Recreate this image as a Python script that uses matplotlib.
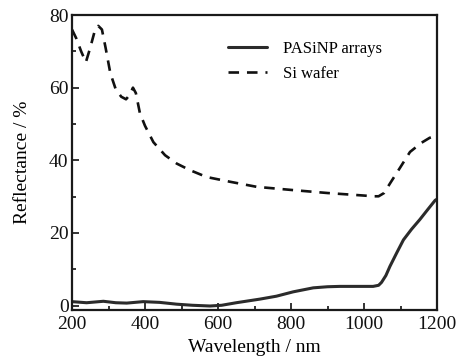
import matplotlib
matplotlib.use("Agg")
import matplotlib.pyplot as plt
from matplotlib.ticker import MultipleLocator

plt.rcParams['font.family'] = ['Liberation Serif', 'DejaVu Serif']

# Si wafer (dashed)
si_wl = [200, 212, 225, 238, 250, 262, 272, 282, 292, 305, 320, 335, 348, 358, 367, 375, 386, 400, 423, 455, 487, 523, 569, 633, 706, 806, 900, 1000, 1025, 1040, 1055, 1071, 1099, 1126, 1157, 1180, 1194, 1200]
si_val = [76, 73.5, 70, 67, 71, 75.5, 77, 76, 71, 64, 59.5, 57.5, 56.8, 58, 60, 58.5, 53, 49.5, 45, 41.4, 39.1, 37.3, 35.4, 34.1, 32.7, 31.8, 31, 30.3, 30.1, 30.1, 31, 33.6, 38, 42.3, 44.8, 46.2, 46.6, 46.7]

# PASiNP arrays (solid)
pa_wl = [200, 240, 286, 320, 350, 395, 440, 487, 530, 578, 610, 650, 715, 760, 806, 861, 900, 934, 980, 1025, 1040, 1048, 1060, 1071, 1090, 1108, 1130, 1153, 1175, 1195, 1200]
pa_val = [1.1, 0.8, 1.2, 0.8, 0.7, 1.1, 0.9, 0.4, 0.1, -0.1, 0.1, 0.8, 1.8, 2.6, 3.8, 4.9, 5.2, 5.3, 5.3, 5.3, 5.6, 6.4, 8.3, 10.8, 14.6, 18.1, 21, 23.7, 26.5, 29, 29.3]

fig = plt.figure(figsize=(4.57, 3.6), dpi=100)
ax = fig.add_axes([72/457, 1-310/360, (437-72)/457, (310-15)/360])

ax.plot(pa_wl, pa_val, color='#2b2b2b', lw=2.2, solid_capstyle='round', label='PASiNP arrays')
ax.plot(si_wl, si_val, color='#111111', lw=1.9, dashes=(4, 3), label='Si wafer')

ax.set_xlim(200, 1200)
ax.set_ylim(-1.2, 80)
ax.xaxis.set_major_locator(MultipleLocator(200))
ax.xaxis.set_minor_locator(MultipleLocator(100))
ax.yaxis.set_major_locator(MultipleLocator(20))
ax.yaxis.set_minor_locator(MultipleLocator(10))
ax.tick_params(which='both', direction='in', top=False, right=False, width=1.2, labelsize=14, colors='#111111')
ax.tick_params(which='major', length=5)
ax.tick_params(which='minor', length=3)
ax.tick_params(axis='x', pad=4.5)
ax.tick_params(axis='y', pad=2.5)
for s in ax.spines.values():
    s.set_linewidth(1.6)
    s.set_color('#1a1a1a')

ax.set_xlabel('Wavelength / nm', fontsize=14, labelpad=4)
ax.set_ylabel('Reflectance / %', fontsize=14, labelpad=13)

leg = ax.legend(loc='upper left', bbox_to_anchor=(0.41, 0.935), frameon=False, fontsize=12,
                handlelength=2.3, handletextpad=1.0, labelspacing=0.55, borderaxespad=0)

fig.savefig('out.png', dpi=100)
